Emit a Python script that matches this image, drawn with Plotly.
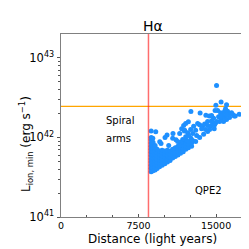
import numpy as np
import plotly.graph_objects as go

# ---- data (distance in light years, log10 of L_ion,min in erg/s) ----
core_dist = ([8720] * 12 + [8900] * 10 + [9100] * 9 + [9300] * 7 + [9530] * 6 + [9780] * 6 +
             [10040] * 5 + [10290] * 5 + [10550] * 4 + [10800] * 4 + [11050] * 4 + [11310] * 4 +
             [11560] * 4 + [11820] * 4 + [12070] * 4 + [12320] * 3 + [12630] * 2)
core_loglum = [41.57, 41.61, 41.65, 41.69, 41.73, 41.77, 41.81, 41.85, 41.89, 41.93, 41.97, 42.00,
               41.58, 41.62, 41.66, 41.70, 41.74, 41.78, 41.82, 41.86, 41.90, 41.94,
               41.59, 41.63, 41.67, 41.71, 41.75, 41.79, 41.83, 41.87, 41.90,
               41.61, 41.65, 41.69, 41.73, 41.77, 41.81, 41.85,
               41.63, 41.67, 41.71, 41.75, 41.79, 41.83,
               41.65, 41.69, 41.73, 41.77, 41.81, 41.84,
               41.67, 41.71, 41.75, 41.79, 41.83,
               41.69, 41.73, 41.77, 41.81, 41.84,
               41.71, 41.75, 41.79, 41.83,
               41.74, 41.78, 41.82, 41.85,
               41.76, 41.80, 41.84, 41.87,
               41.78, 41.82, 41.86, 41.89,
               41.80, 41.84, 41.88, 41.92,
               41.82, 41.86, 41.90, 41.94,
               41.85, 41.89, 41.93, 41.97,
               41.87, 41.91, 41.95,
               41.89, 41.93]

sparse_dist = [8720, 9164, 10254, 10832, 9549, 10418, 8880, 10061, 10804, 11122, 9675]
sparse_loglum = [42.08, 42.07, 42.03, 42.05, 41.946, 41.90, 41.99, 42.00, 41.99, 41.97, 41.925]

band_dist = [11479, 11672, 11865, 12058, 12318, 11962, 12251, 12540, 12733, 12568, 12347,
             12058, 11769, 11576, 11933, 11449, 12831, 13024, 12733, 13120, 11286,
             13024, 13408, 13794, 14180,
             13215, 13408, 13697, 13890, 14180, 14468, 14372, 13987, 13601, 14661,
             14822, 14180, 14854, 14565, 14951]
band_loglum = [42.05, 42.11, 42.15, 42.175, 42.196, 42.09, 42.06, 42.10, 42.05, 41.99, 42.025,
               42.01, 41.975, 41.94, 42.08, 41.90, 42.14, 42.09, 41.96, 42.025, 41.95,
               41.95, 42.00, 42.04, 42.075,
               42.175, 42.16, 42.14, 42.17, 42.15, 42.14, 42.10, 42.10, 42.11, 42.175,
               42.11, 42.20, 42.16, 42.21, 42.18]

cluster_dist = [15144, 15434, 15627, 15820, 16108, 16301, 15241, 15530, 15820, 16012, 15337,
                14758, 15048, 16494, 15915, 16301, 16754, 15434, 16012, 15723,
                12566, 13455, 14015, 14344, 14565, 14903, 16590, 16851, 17237,
                15046, 15483, 16011, 14980]
cluster_loglum = [42.34, 42.31, 42.30, 42.33, 42.33, 42.30, 42.26, 42.24, 42.256, 42.225, 42.20,
                  42.24, 42.20, 42.31, 42.36, 42.25, 42.27, 42.27, 42.285, 42.20,
                  42.325, 42.306, 42.28, 42.27, 42.275, 42.34, 42.29, 42.27, 42.29,
                  42.654, 42.444, 42.41, 42.404]

spiral_arm_dist = 8460          # light years (red line)
threshold_lum = 2.45e42         # erg/s (orange line)
x_range = [0, 17700]
y_log_range = [41, 43.3]
x_tick_vals = [0, 7500, 15000]
x_tick_text = ["0", "7500", "15000"]
y_tick_vals = [1e41, 1e42, 1e43]
y_tick_text = ["10<sup>41</sup>", "10<sup>42</sup>", "10<sup>43</sup>"]

dist = core_dist + sparse_dist + band_dist + cluster_dist
lum = 10 ** np.array(core_loglum + sparse_loglum + band_loglum + cluster_loglum)

FONT = "DejaVu Sans"
fig = go.Figure()

fig.add_trace(go.Scatter(x=x_range, y=[threshold_lum, threshold_lum], mode="lines",
                         line=dict(color="#FFA500", width=1.2), hoverinfo="skip",
                         showlegend=False))
fig.add_trace(go.Scatter(x=dist, y=lum, mode="markers",
                         marker=dict(color="#1E90FF", size=5, line=dict(width=0)),
                         showlegend=False))

fig.add_shape(type="line", xref="x", yref="paper", x0=spiral_arm_dist, x1=spiral_arm_dist,
              y0=0, y1=1, line=dict(color="rgba(255,30,30,0.65)", width=1.5), layer="above")

axis_line = "#808080"
fig.update_xaxes(range=x_range, tickvals=x_tick_vals, ticktext=x_tick_text,
                 ticks="inside", ticklen=3.5, tickcolor="#555", tickwidth=1,
                 minor=dict(ticks="inside", ticklen=2, tickcolor="#555", dtick=2500, tick0=0,
                            showgrid=False),
                 showline=True, linecolor=axis_line, linewidth=1, mirror=True,
                 showgrid=False, zeroline=False,
                 tickfont=dict(family=FONT, size=9.5, color="black"))
fig.update_yaxes(type="log", range=y_log_range, tickvals=y_tick_vals, ticktext=y_tick_text,
                 ticks="outside", ticklen=3.5, tickcolor="#555", tickwidth=1,
                 minor=dict(ticks="outside", ticklen=2, tickcolor="#555", dtick="D1",
                            showgrid=False),
                 showline=True, linecolor=axis_line, linewidth=1, mirror=True,
                 showgrid=False, zeroline=False,
                 tickfont=dict(family=FONT, size=11.5, color="black"))

ann_font = dict(family=FONT, size=10, color="black")
fig.update_layout(
    width=249, height=249,
    margin=dict(l=53, r=13, t=26, b=40),
    plot_bgcolor="white", paper_bgcolor="white",
    annotations=[
        dict(text="Hα", xref="paper", yref="paper", x=0.5, y=1.045, showarrow=False,
             xanchor="center", yanchor="middle", font=dict(family=FONT, size=14, color="black")),
        dict(text="Distance (light years)", xref="paper", yref="paper", x=0.5, y=-0.118,
             showarrow=False, xanchor="center", yanchor="middle",
             font=dict(family=FONT, size=12, color="black")),
        dict(text="L<sub>ion, min</sub> (erg s<sup>−1</sup>)", xref="paper", yref="paper",
             x=-0.19, y=0.40, textangle=-90, showarrow=False, xanchor="center",
             yanchor="middle", font=dict(family=FONT, size=12, color="black")),
        dict(text="Spiral", xref="paper", yref="paper", x=0.234, y=0.525, showarrow=False,
             xanchor="left", yanchor="middle", font=ann_font),
        dict(text="arms", xref="paper", yref="paper", x=0.234, y=0.430, showarrow=False,
             xanchor="left", yanchor="middle", font=ann_font),
        dict(text="QPE2", xref="paper", yref="paper", x=0.804, y=0.144, showarrow=False,
             xanchor="center", yanchor="middle", font=ann_font),
    ],
)

fig.write_html("out.html")
